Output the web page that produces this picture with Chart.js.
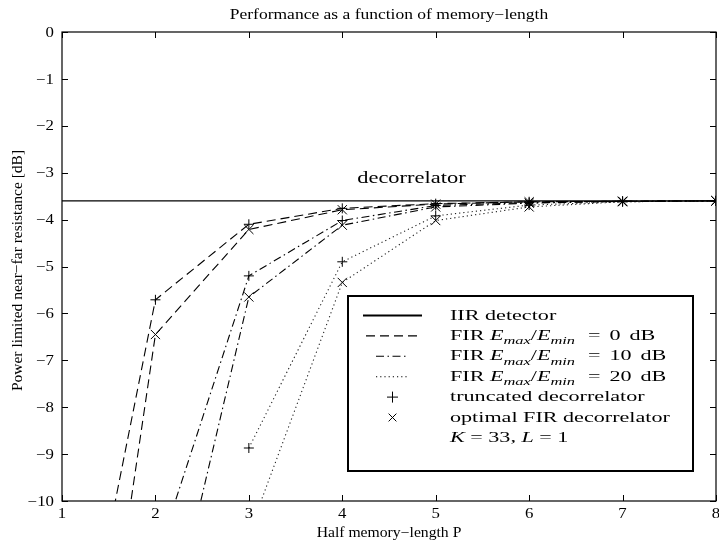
<!DOCTYPE html>
<html>
<head>
<meta charset="utf-8">
<script src="https://cdn.jsdelivr.net/npm/chart.js@4/dist/chart.umd.min.js"></script>
<style>
  html, body { margin: 0; padding: 0; background: #fff; }
  canvas { display: block; }
</style>
</head>
<body>
<canvas id="chart" width="719" height="543"></canvas>
<script>
// Half memory-length P
const memoryLength = [1, 2, 3, 4, 5, 6, 7, 8];

// IIR decorrelator (infinite memory) level, dB
const iirDetector = [-3.6, -3.6, -3.6, -3.6, -3.6, -3.6, -3.6, -3.6];

// FIR, Emax/Emin = 0 dB
const truncated0dB = [-15.7, -5.71, -4.10, -3.76, -3.66, -3.62, -3.61, -3.60];
const optimal0dB   = [-20.0, -6.45, -4.21, -3.79, -3.67, -3.62, -3.61, -3.60];

// FIR, Emax/Emin = 10 dB
const truncated10dB = [null, -11.3, -5.20, -4.02, -3.70, -3.64, -3.61, -3.60];
const optimal10dB   = [null, -14.1, -5.65, -4.12, -3.73, -3.65, -3.61, -3.60];

// FIR, Emax/Emin = 20 dB
const truncated20dB = [null, null, -8.87, -4.90, -3.92, -3.69, -3.62, -3.60];
const optimal20dB   = [null, null, -10.7, -5.34, -4.02, -3.73, -3.62, -3.60];

// Power ratios of the three FIR cases, dB
const powerRatios = [0, 10, 20];

// Axis ticks
const xTicks = [1, 2, 3, 4, 5, 6, 7, 8];
const yTicks = [0, -1, -2, -3, -4, -5, -6, -7, -8, -9, -10];

const SERIF = '"Liberation Serif", "Times New Roman", serif';
const DASHED = [9, 5];
const DASHDOT = [8, 3.5, 1.5, 3.5];
const DOTTED = [1.2, 3];

function toPoints(ys) {
  return memoryLength.map((x, i) => ({ x: x, y: ys[i] }));
}

function series(label, ys, dash, marker, radius, color) {
  return {
    label: label,
    data: toPoints(ys),
    borderColor: color,
    borderWidth: 1.1,
    borderDash: dash,
    fill: false,
    tension: 0,
    spanGaps: false,
    pointStyle: marker,
    pointRadius: radius,
    pointHoverRadius: radius,
    pointBorderWidth: 1,
    pointBorderColor: '#000',
    pointBackgroundColor: 'rgba(0,0,0,0)'
  };
}

// Text drawn with a horizontal stretch factor
function stretchedText(ctx, str, x, y, sx, align) {
  ctx.save();
  ctx.translate(x, y);
  ctx.scale(sx, 1);
  ctx.textAlign = align || 'left';
  ctx.fillText(str, 0, 0);
  ctx.restore();
}

// Rich text: segments of [text, style, gap] where style is n (roman), i (italic),
// s (italic subscript) and gap is extra space before the segment
function richText(ctx, segs, x, y, size, sx) {
  let cx = x;
  segs.forEach(([str, style, gap]) => {
    let font, dy = 0;
    if (style === 'i') font = 'italic ' + size + 'px ' + SERIF;
    else if (style === 's') { font = 'italic ' + (size * 0.74) + 'px ' + SERIF; dy = size * 0.3; }
    else font = size + 'px ' + SERIF;
    ctx.font = font;
    cx += gap || 0;
    const w = ctx.measureText(str).width * sx;
    stretchedText(ctx, str, cx, y + dy, sx, 'left');
    cx += w;
  });
}

function firLabel(ratio) {
  return [['FIR ', 'n'], ['E', 'i'], ['max', 's'], ['/', 'n'], ['E', 'i'], ['min', 's'],
          ['=', 'n', 13], [String(ratio), 'n', 9], ['dB', 'n', 9]];
}

const legendRows = [
  { ds: 0, sample: 'line', text: [['IIR detector', 'n']] },
  { ds: 1, sample: 'line', text: firLabel(powerRatios[0]) },
  { ds: 3, sample: 'line', text: firLabel(powerRatios[1]) },
  { ds: 5, sample: 'line', text: firLabel(powerRatios[2]) },
  { ds: 1, sample: 'marker', text: [['truncated decorrelator', 'n']] },
  { ds: 2, sample: 'marker', text: [['optimal FIR decorrelator', 'n']] },
  { ds: -1, sample: 'none', text: [['K', 'i'], [' = 33, ', 'n'], ['L', 'i'], [' = 1', 'n']] }
];

const decorations = {
  id: 'decorations',
  afterDatasetsDraw(chart) {
    const ctx = chart.ctx;
    const ca = chart.chartArea;
    const xs = chart.scales.x, ys = chart.scales.y;
    const TL = 6;

    ctx.save();
    ctx.strokeStyle = '#000';
    ctx.fillStyle = '#000';
    ctx.setLineDash([]);

    // axes box
    ctx.lineWidth = 1.2;
    ctx.strokeRect(ca.left, ca.top, ca.right - ca.left, ca.bottom - ca.top);

    // inward tick marks on all four sides
    ctx.lineWidth = 1;
    ctx.beginPath();
    xTicks.forEach(v => {
      const px = Math.round(xs.getPixelForValue(v)) + 0.5;
      ctx.moveTo(px, ca.bottom); ctx.lineTo(px, ca.bottom - TL);
      ctx.moveTo(px, ca.top); ctx.lineTo(px, ca.top + TL);
    });
    yTicks.forEach(v => {
      const py = Math.round(ys.getPixelForValue(v)) + 0.5;
      ctx.moveTo(ca.left, py); ctx.lineTo(ca.left + TL, py);
      ctx.moveTo(ca.right, py); ctx.lineTo(ca.right - TL, py);
    });
    ctx.stroke();

    // tick labels
    ctx.font = '14px ' + SERIF;
    ctx.textBaseline = 'middle';
    yTicks.forEach(v => {
      const lbl = v === 0 ? '0' : '\u2212' + Math.abs(v);
      stretchedText(ctx, lbl, ca.left - 8, ys.getPixelForValue(v) + 1, 1.2, 'right');
    });
    ctx.textBaseline = 'top';
    xTicks.forEach(v => {
      stretchedText(ctx, String(v), xs.getPixelForValue(v), ca.bottom + 6, 1.2, 'center');
    });

    // title and axis titles
    const cx = (ca.left + ca.right) / 2;
    ctx.textBaseline = 'alphabetic';
    ctx.font = '14px ' + SERIF;
    stretchedText(ctx, 'Performance as a function of memory\u2212length', cx, 18.5, 1.25, 'center');
    stretchedText(ctx, 'Half memory\u2212length P', cx, 537, 1.12, 'center');

    ctx.save();
    ctx.translate(22, (ca.top + ca.bottom) / 2 + 4);
    ctx.rotate(-Math.PI / 2);
    ctx.font = '15.5px ' + SERIF;
    ctx.textAlign = 'center';
    ctx.fillText('Power limited near\u2212far resistance [dB]', 0, 0);
    ctx.restore();

    // label above the IIR level
    ctx.font = '17px ' + SERIF;
    stretchedText(ctx, 'decorrelator', xs.getPixelForValue(4.74), ys.getPixelForValue(-3.21), 1.32, 'center');

    // legend
    const lx = ca.right - 368, ly = ca.bottom - 205, lw = 345, lh = 175;
    ctx.fillStyle = '#fff';
    ctx.fillRect(lx, ly, lw, lh);
    ctx.fillStyle = '#000';
    ctx.lineWidth = 2;
    ctx.strokeRect(lx, ly, lw, lh);

    const sx0 = lx + 15, sx1 = lx + 74, smid = (sx0 + sx1) / 2;
    legendRows.forEach((row, i) => {
      const base = ly + 23.5 + i * 20.4;
      const ds = row.ds >= 0 ? chart.data.datasets[row.ds] : null;
      if (row.sample === 'line') {
        ctx.save();
        ctx.lineWidth = row.ds === 0 ? 2.2 : 1.1;
        ctx.setLineDash(ds.borderDash || []);
        const y0 = base - 4;
        const span = (ds.borderDash && ds.borderDash.length) ? (row.ds === 1 ? 53 : 33) : 59;
        ctx.beginPath();
        ctx.moveTo(smid - span / 2, y0);
        ctx.lineTo(smid + span / 2, y0);
        ctx.stroke();
        ctx.restore();
      } else if (row.sample === 'marker') {
        ctx.save();
        ctx.lineWidth = 1;
        ctx.strokeStyle = '#000';
        Chart.helpers.drawPoint(ctx, {
          pointStyle: ds.pointStyle,
          radius: 5.5,
          rotation: 0,
          borderWidth: 1
        }, smid, base - 4);
        ctx.restore();
      }
      richText(ctx, row.text, lx + 102, base, 14, 1.58);
    });

    ctx.restore();
  }
};

new Chart(document.getElementById('chart'), {
  type: 'line',
  data: {
    datasets: [
      { label: 'IIR detector', data: toPoints(iirDetector), borderColor: '#000', borderWidth: 1.3,
        pointRadius: 0, fill: false, tension: 0 },
      series('truncated, 0 dB', truncated0dB, DASHED, 'cross', 5, '#000'),
      series('optimal FIR, 0 dB', optimal0dB, DASHED, 'crossRot', 6.5, '#000'),
      series('truncated, 10 dB', truncated10dB, DASHDOT, 'cross', 5, '#000'),
      series('optimal FIR, 10 dB', optimal10dB, DASHDOT, 'crossRot', 6.5, '#000'),
      series('truncated, 20 dB', truncated20dB, DOTTED, 'cross', 5, '#222'),
      series('optimal FIR, 20 dB', optimal20dB, DOTTED, 'crossRot', 6.5, '#222')
    ]
  },
  options: {
    responsive: false,
    animation: false,
    devicePixelRatio: 1,
    events: [],
    layout: { autoPadding: false, padding: { top: 32, right: 3, left: 0, bottom: 0 } },
    plugins: {
      legend: { display: false },
      title: { display: false },
      tooltip: { enabled: false }
    },
    scales: {
      x: {
        type: 'linear', min: 1, max: 8,
        afterFit(s) { s.height = 42; },
        ticks: { display: false, stepSize: 1 },
        grid: { display: false, drawTicks: false },
        border: { display: false }
      },
      y: {
        type: 'linear', min: -10, max: 0,
        afterFit(s) { s.width = 62; },
        ticks: { display: false, stepSize: 1 },
        grid: { display: false, drawTicks: false },
        border: { display: false }
      }
    }
  },
  plugins: [decorations]
});
</script>
</body>
</html>
